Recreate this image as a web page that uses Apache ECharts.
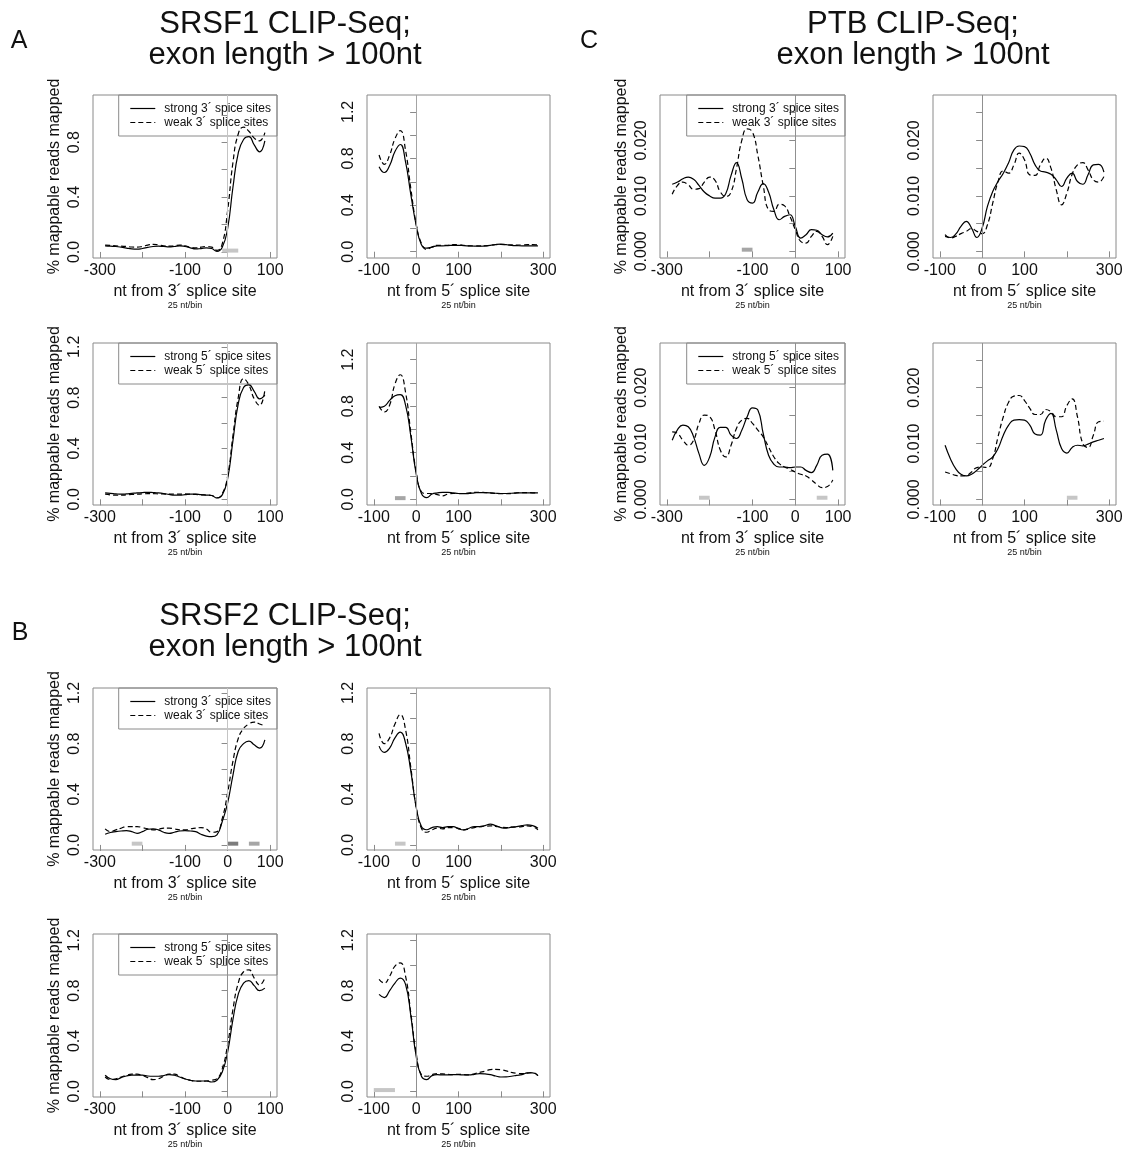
<!DOCTYPE html>
<html>
<head>
<meta charset="utf-8">
<script src="https://cdn.jsdelivr.net/npm/echarts@6/dist/echarts.min.js"></script>
<style>
html,body{margin:0;padding:0;background:#fff}
#chart{width:1130px;height:1150px}
</style>
</head>
<body>
<div id="chart"></div>
<script>
// ---- bin centres (nt from the splice site) ----
const bins3 = [-287.5,-275,-262.5,-250,-237.5,-225,-212.5,-200,-187.5,-175,-162.5,-150,-137.5,-125,-112.5,-100,-87.5,-75,-62.5,-50,-37.5,-25,-12.5,0,12.5,25,37.5,50,62.5,75,87.5];
const bins5 = [-87.5,-75,-62.5,-50,-37.5,-25,-12.5,0,12.5,25,37.5,50,62.5,75,87.5,100,112.5,125,137.5,150,162.5,175,187.5,200,212.5,225,237.5,250,262.5,275,287.5];

// ---- axis ticks and labels ----
const xTicks3 = [-300,-200,-100,0,100];
const xLabels3 = [-300,-100,0,100];
const xTicks5 = [-100,0,100,200,300];
const xLabels5 = [-100,0,100,300];
const yTicksPct = [0,0.2,0.4,0.6,0.8,1.0,1.2];
const yLabelsPct = [0,0.4,0.8,1.2];
const yTicksPtb = [0,0.005,0.01,0.015,0.02,0.025];
const yLabelsPtb = [0,0.01,0.02];

// ---- legend entries ----
const names3 = ['strong 3\u00b4 spice sites','weak 3\u00b4 splice sites'];
const names5 = ['strong 5\u00b4 spice sites','weak 5\u00b4 splice sites'];

// ---- SRSF1, exons grouped by 3' splice site strength ----
const a1Strong = [0.045,0.042,0.04,0.035,0.028,0.022,0.02,0.025,0.033,0.04,0.042,0.04,0.037,0.04,0.045,0.04,0.03,0.022,0.025,0.03,0.025,0.005,0.035,0.17,0.47,0.72,0.82,0.84,0.78,0.73,0.81];
const a1Weak   = [0.05,0.048,0.045,0.042,0.04,0.036,0.035,0.04,0.05,0.056,0.052,0.045,0.042,0.045,0.05,0.045,0.035,0.03,0.035,0.04,0.035,0.012,0.06,0.3,0.65,0.86,0.91,0.88,0.83,0.81,0.87];
const a2Strong = [0.73,0.68,0.74,0.86,0.92,0.77,0.49,0.23,0.06,0.03,0.04,0.05,0.05,0.052,0.055,0.055,0.052,0.05,0.048,0.047,0.05,0.055,0.062,0.065,0.06,0.055,0.052,0.05,0.05,0.05,0.05];
const a2Weak   = [0.83,0.75,0.83,0.97,1.04,0.87,0.54,0.24,0.07,0.02,0.04,0.055,0.055,0.055,0.06,0.06,0.055,0.05,0.05,0.05,0.05,0.055,0.06,0.062,0.06,0.058,0.057,0.058,0.06,0.06,0.058];
// ---- SRSF1, exons grouped by 5' splice site strength ----
const a3Strong = [0.05,0.047,0.043,0.04,0.042,0.046,0.05,0.053,0.055,0.053,0.05,0.045,0.038,0.032,0.032,0.036,0.04,0.04,0.036,0.033,0.03,0.01,0.035,0.16,0.46,0.75,0.88,0.9,0.85,0.79,0.82];
const a3Weak   = [0.04,0.035,0.032,0.032,0.035,0.038,0.04,0.042,0.044,0.044,0.043,0.042,0.04,0.04,0.04,0.042,0.04,0.038,0.035,0.033,0.03,0.012,0.045,0.18,0.5,0.8,0.95,0.9,0.79,0.74,0.86];
const a4Strong = [0.79,0.8,0.85,0.89,0.9,0.81,0.54,0.22,0.05,0.015,0.045,0.055,0.06,0.06,0.055,0.05,0.048,0.05,0.055,0.058,0.057,0.055,0.052,0.05,0.05,0.052,0.055,0.056,0.055,0.055,0.055];
const a4Weak   = [0.8,0.75,0.81,0.99,1.07,0.92,0.57,0.24,0.065,0.05,0.05,0.04,0.03,0.045,0.05,0.05,0.05,0.055,0.06,0.06,0.058,0.055,0.05,0.048,0.048,0.05,0.055,0.058,0.058,0.056,0.055];

// ---- PTB ----
const c1Strong = [0.0121,0.0125,0.0131,0.0134,0.013,0.0119,0.0107,0.01,0.0096,0.0096,0.0104,0.0137,0.016,0.0131,0.0093,0.0087,0.0107,0.0122,0.0107,0.0075,0.0057,0.0063,0.0066,0.0045,0.0024,0.003,0.0039,0.0038,0.003,0.0026,0.0033];
const c1Weak   = [0.0103,0.0119,0.0125,0.012,0.0112,0.0113,0.0125,0.0134,0.0128,0.0107,0.0099,0.0107,0.0149,0.02,0.0221,0.0215,0.0173,0.0119,0.0075,0.0072,0.0085,0.0082,0.0063,0.0039,0.0018,0.0015,0.0027,0.0036,0.0027,0.0012,0.0027];
const c2Strong = [0.0027,0.0025,0.0031,0.0045,0.0054,0.0042,0.0025,0.0042,0.0081,0.0108,0.0126,0.0141,0.016,0.0183,0.019,0.0189,0.0177,0.0156,0.0145,0.0143,0.0139,0.0129,0.0117,0.0132,0.0141,0.0126,0.0121,0.0138,0.0156,0.0157,0.0143];
const c2Weak   = [0.003,0.0024,0.0027,0.0032,0.0036,0.0041,0.0036,0.0032,0.0048,0.0087,0.0126,0.0145,0.0141,0.0156,0.0177,0.0165,0.0138,0.0137,0.0156,0.0168,0.015,0.0111,0.0084,0.0105,0.0139,0.0156,0.016,0.0147,0.0129,0.0125,0.0135];
const c3Strong = [0.0106,0.0125,0.0133,0.013,0.0112,0.0082,0.0061,0.0076,0.0112,0.0129,0.0129,0.0115,0.0109,0.0124,0.0148,0.0164,0.016,0.0118,0.0079,0.0063,0.0058,0.0058,0.0057,0.0058,0.0058,0.0052,0.0048,0.0061,0.0079,0.0081,0.0052];
const c3Weak   = [0.0121,0.0118,0.0106,0.0097,0.0106,0.0136,0.0151,0.0148,0.0124,0.0088,0.0076,0.0097,0.0127,0.0142,0.0145,0.0136,0.0124,0.0112,0.0094,0.0076,0.0064,0.0058,0.0054,0.0049,0.0045,0.0042,0.0035,0.0027,0.0021,0.0023,0.0035];
const c4Strong = [0.0097,0.0073,0.0055,0.0045,0.0042,0.0045,0.0052,0.0061,0.0069,0.0076,0.0091,0.0115,0.0133,0.0142,0.0143,0.0142,0.0133,0.0117,0.0115,0.0142,0.0154,0.0124,0.0091,0.0083,0.0093,0.0097,0.0096,0.0099,0.0103,0.0106,0.0109];
const c4Weak   = [0.0049,0.0046,0.0043,0.0042,0.0043,0.0049,0.0057,0.0058,0.0057,0.0073,0.0112,0.0148,0.0174,0.0185,0.0186,0.0177,0.0163,0.0152,0.0152,0.0161,0.0157,0.0148,0.0148,0.0168,0.018,0.0148,0.01,0.0093,0.0115,0.0139,0.014];

// ---- SRSF2 ----
const b1Strong = [0.084,0.098,0.105,0.11,0.113,0.105,0.092,0.105,0.124,0.127,0.119,0.1,0.092,0.1,0.11,0.113,0.11,0.105,0.084,0.07,0.065,0.08,0.185,0.33,0.55,0.74,0.8,0.82,0.79,0.765,0.83];
const b1Weak   = [0.127,0.105,0.119,0.132,0.145,0.145,0.145,0.137,0.127,0.119,0.124,0.132,0.132,0.127,0.119,0.119,0.127,0.132,0.137,0.127,0.1,0.105,0.21,0.41,0.66,0.84,0.92,0.955,0.97,0.955,0.94];
const b2Strong = [0.78,0.73,0.765,0.845,0.89,0.805,0.58,0.3,0.145,0.12,0.137,0.145,0.137,0.145,0.145,0.127,0.119,0.132,0.145,0.145,0.153,0.164,0.153,0.137,0.132,0.14,0.145,0.153,0.158,0.153,0.132];
const b2Weak   = [0.88,0.8,0.845,0.955,1.03,0.91,0.61,0.3,0.132,0.1,0.119,0.132,0.127,0.137,0.137,0.132,0.119,0.127,0.137,0.145,0.148,0.15,0.147,0.14,0.137,0.14,0.142,0.145,0.15,0.145,0.119];
const b3Strong = [0.128,0.1,0.093,0.109,0.122,0.128,0.128,0.128,0.122,0.12,0.12,0.125,0.133,0.128,0.114,0.098,0.088,0.082,0.082,0.082,0.074,0.088,0.154,0.31,0.57,0.77,0.86,0.88,0.84,0.8,0.82];
const b3Weak   = [0.114,0.093,0.1,0.114,0.128,0.136,0.136,0.125,0.109,0.093,0.1,0.12,0.136,0.136,0.12,0.1,0.088,0.08,0.08,0.082,0.088,0.1,0.18,0.37,0.65,0.86,0.95,0.965,0.9,0.845,0.9];
const b4Strong = [0.77,0.745,0.8,0.86,0.9,0.85,0.6,0.28,0.12,0.093,0.125,0.133,0.13,0.13,0.132,0.133,0.13,0.13,0.135,0.14,0.138,0.133,0.122,0.114,0.115,0.12,0.127,0.133,0.146,0.146,0.125];
const b4Weak   = [0.89,0.86,0.915,0.995,1.02,0.915,0.62,0.305,0.133,0.12,0.133,0.14,0.138,0.135,0.133,0.135,0.133,0.13,0.14,0.15,0.16,0.172,0.175,0.172,0.162,0.15,0.143,0.14,0.145,0.15,0.125];

// ---- significant bins (start, end in nt) ----
const a1Sig = [[-12.5,25]];
const a4Sig = [[-50,-25]];
const c1Sig = [[-125,-100]];
const c3Sig = [[-225,-200],[50,75]];
const c4Sig = [[200,225]];
const b1Sig = [[-225,-200],[0,25],[50,75]];
const b2Sig = [[-50,-25]];
const b4Sig = [[-100,-50]];

// ---- styling ----
const FONT = 'Liberation Sans, Arial, Helvetica, sans-serif';
const TXT = '#111';
const BOX = '#8a8a8a';
const LIGHT = '#c6c6c6', MID = '#a6a6a6', DARK = '#7c7c7c';

// panel layout: box = [left, top, width, height]
const panels = [
  {box:[93,95,184,163],  bins:bins3, site:3, y:[-0.044,1.144], ptb:false, names:names3, s:a1Strong, w:a1Weak, legend:true,  yName:true,  zero:'#c4c4c4', sig:a1Sig, sigShade:[LIGHT]},
  {box:[367,95,183,163], bins:bins5, site:5, y:[-0.054,1.345], ptb:false, names:names3, s:a2Strong, w:a2Weak, legend:false, yName:false, zero:'#a4a4a4', sig:[], sigShade:[]},
  {box:[93,343,184,162], bins:bins3, site:3, y:[-0.045,1.23],  ptb:false, names:names5, s:a3Strong, w:a3Weak, legend:true,  yName:true,  zero:'#c4c4c4', sig:[], sigShade:[]},
  {box:[367,343,183,162],bins:bins5, site:5, y:[-0.049,1.343], ptb:false, names:names5, s:a4Strong, w:a4Weak, legend:false, yName:false, zero:'#a4a4a4', sig:a4Sig, sigShade:[MID]},
  {box:[660,95,185,163], bins:bins3, site:3, y:[-0.0012,0.0282], ptb:true, names:names3, s:c1Strong, w:c1Weak, legend:true,  yName:true,  zero:'#909090', sig:c1Sig, sigShade:[MID]},
  {box:[933,95,183,163], bins:bins5, site:5, y:[-0.0012,0.0282], ptb:true, names:names3, s:c2Strong, w:c2Weak, legend:false, yName:false, zero:'#909090', sig:[], sigShade:[]},
  {box:[660,343,185,162],bins:bins3, site:3, y:[-0.001,0.028],   ptb:true, names:names5, s:c3Strong, w:c3Weak, legend:true,  yName:true,  zero:'#909090', sig:c3Sig, sigShade:[LIGHT,LIGHT]},
  {box:[933,343,183,162],bins:bins5, site:5, y:[-0.001,0.028],   ptb:true, names:names5, s:c4Strong, w:c4Weak, legend:false, yName:false, zero:'#909090', sig:c4Sig, sigShade:[LIGHT]},
  {box:[93,688,184,162], bins:bins3, site:3, y:[-0.04,1.239],  ptb:false, names:names3, s:b1Strong, w:b1Weak, legend:true,  yName:true,  zero:'#c4c4c4', sig:b1Sig, sigShade:[LIGHT,DARK,MID]},
  {box:[367,688,183,162],bins:bins5, site:5, y:[-0.04,1.239],  ptb:false, names:names3, s:b2Strong, w:b2Weak, legend:false, yName:false, zero:'#a4a4a4', sig:b2Sig, sigShade:[LIGHT]},
  {box:[93,934,184,163], bins:bins3, site:3, y:[-0.045,1.25],  ptb:false, names:names5, s:b3Strong, w:b3Weak, legend:true,  yName:true,  zero:'#909090', sig:[], sigShade:[]},
  {box:[367,934,183,163],bins:bins5, site:5, y:[-0.045,1.25],  ptb:false, names:names5, s:b4Strong, w:b4Weak, legend:false, yName:false, zero:'#909090', sig:b4Sig, sigShade:[LIGHT]}
];

const grid = [], xAxis = [], yAxis = [], series = [], legend = [];
const W = 1130;

panels.forEach((p, i) => {
  const [l, t, w, h] = p.box;
  grid.push({left:l, top:t, width:w, height:h, show:true, borderColor:BOX, borderWidth:1,
             backgroundColor:'transparent', containLabel:false, outerBoundsMode:'none'});

  const xr = p.site === 3 ? [-316,116] : [-116,316];
  const xt = p.site === 3 ? xTicks3 : xTicks5;
  const xl = p.site === 3 ? xLabels3 : xLabels5;
  xAxis.push({
    gridIndex:i, type:'value', min:xr[0], max:xr[1],
    axisLine:{show:false}, splitLine:{show:false},
    axisTick:{show:true, length:6, lineStyle:{color:BOX}, customValues:xt},
    axisLabel:{customValues:xl, fontSize:16, color:TXT, fontFamily:FONT, margin:5},
    name:'nt from ' + p.site + '\u00b4 splice site\n{s|25 nt/bin}',
    nameLocation:'middle', nameGap:26,
    nameTextStyle:{fontSize:16, color:TXT, fontFamily:FONT, lineHeight:16,
                   rich:{s:{fontSize:9, lineHeight:12, color:TXT, fontFamily:FONT}}}
  });

  const yt = (p.ptb ? yTicksPtb : yTicksPct).filter(v => v >= p.y[0] && v <= p.y[1]);
  const yl = (p.ptb ? yLabelsPtb : yLabelsPct).filter(v => v >= p.y[0] && v <= p.y[1]);
  yAxis.push({
    gridIndex:i, type:'value', min:p.y[0], max:p.y[1],
    axisLine:{show:false}, splitLine:{show:false},
    axisTick:{show:true, length:6, lineStyle:{color:BOX}, customValues:yt},
    axisLabel:{customValues:yl, rotate:90, fontSize:16, color:TXT, fontFamily:FONT, margin:10,
               formatter: v => Number(v).toFixed(p.ptb ? 3 : 1)},
    name: p.yName ? '% mappable reads mapped' : '',
    nameLocation:'middle', nameRotate:90, nameGap:30,
    nameTextStyle:{fontSize:16, color:TXT, fontFamily:FONT}
  });

  // reference line at the splice site plus significant-bin bars
  const sigLevel = p.ptb ? 0.0003 : 0.01;
  p.sig.forEach((seg, k) => {
    series.push({
      type:'line', xAxisIndex:i, yAxisIndex:i, silent:true, z:1,
      data:[[seg[0], sigLevel],[seg[1], sigLevel]],
      showSymbol:false, symbol:'none',
      lineStyle:{color:p.sigShade[k], width:4, cap:'butt'}
    });
  });
  series.push({
    type:'line', xAxisIndex:i, yAxisIndex:i, silent:true, z:1, data:[],
    markLine:{silent:true, symbol:['none','none'], label:{show:false},
              lineStyle:{color:p.zero, width:1, type:'solid'},
              data:[{xAxis:0}], animation:false}
  });

  series.push({
    name:p.names[0], type:'line', xAxisIndex:i, yAxisIndex:i, z:3,
    data:p.bins.map((x, k) => [x, p.s[k]]),
    smooth:0.5, symbol:'none', showSymbol:false,
    lineStyle:{color:'#000', width:1.2, type:'solid'}, itemStyle:{color:'#000'}
  });
  series.push({
    name:p.names[1], type:'line', xAxisIndex:i, yAxisIndex:i, z:3,
    data:p.bins.map((x, k) => [x, p.w[k]]),
    smooth:0.5, symbol:'none', showSymbol:false,
    lineStyle:{color:'#000', width:1.2, type:[5,3]}, itemStyle:{color:'#000'}
  });

  if (p.legend) {
    legend.push({
      data:p.names, orient:'vertical', right: W - (l + w), top:t,
      itemWidth:25, itemHeight:10, itemGap:1, padding:[7,6,7,11],
      borderColor:BOX, borderWidth:1, backgroundColor:'transparent',
      selectedMode:false, z:2,
      itemStyle:{opacity:0, borderWidth:0},
      lineStyle:{width:1.2},
      textStyle:{fontSize:12, color:TXT, fontFamily:FONT, lineHeight:13, padding:[0,0,0,4]}
    });
  }
});

// figure headings and panel letters
function txt(x, y, s, size, align) {
  return {type:'text', x:x, y:y, silent:true,
          style:{text:s, fill:TXT, font: size + 'px ' + FONT, textAlign:align || 'center', textVerticalAlign:'middle'}};
}
const graphic = [
  txt(285, 24, 'SRSF1 CLIP-Seq;', 31), txt(285, 55, 'exon length > 100nt', 31),
  txt(913, 24, 'PTB CLIP-Seq;', 31),   txt(913, 55, 'exon length > 100nt', 31),
  txt(285, 616, 'SRSF2 CLIP-Seq;', 31), txt(285, 647, 'exon length > 100nt', 31),
  txt(19, 41, 'A', 25), txt(589, 41, 'C', 25), txt(20, 633, 'B', 25)
];

const chart = echarts.init(document.getElementById('chart'), null, {renderer:'canvas'});
chart.setOption({
  animation:false,
  backgroundColor:'#fff',
  grid, xAxis, yAxis, series, legend, graphic
});
</script>
</body>
</html>
